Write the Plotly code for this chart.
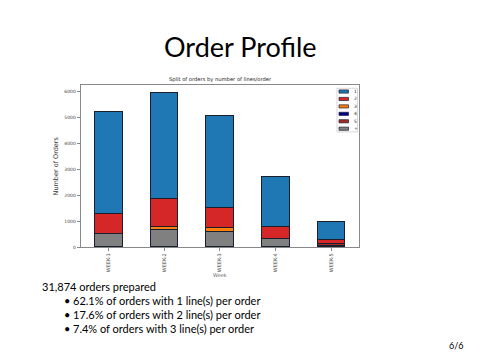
import plotly.graph_objects as go

weeks = ["WEEK-1", "WEEK-2", "WEEK-3", "WEEK-4", "WEEK-5"]
x_pos = [0, 1, 2, 3, 4]
series_names = ["1", "2", "3", "4", "5", "+"]
vals_1 = [3915, 4119, 3547, 1919, 712]
vals_2 = [775, 1080, 750, 458, 167]
vals_3 = [10, 102, 165, 10, 0]
vals_4 = [0, 0, 0, 0, 0]
vals_5 = [0, 0, 0, 0, 60]
vals_plus = [496, 648, 572, 305, 40]
colors = {"1": "#1f77b4", "2": "#d62728", "3": "#ff7f0e", "4": "#00008b", "5": "#a52a2a", "+": "#808080"}
values = {"1": vals_1, "2": vals_2, "3": vals_3, "4": vals_4, "5": vals_5, "+": vals_plus}
stack_order = ["+", "5", "4", "3", "2", "1"]

bullets = [
    "62.1% of orders with 1 line(s) per order",
    "17.6% of orders with 2 line(s) per order",
    "7.4% of orders with 3 line(s) per order",
]

W, H = 480, 360
fig = go.Figure()
for name in stack_order:
    fig.add_trace(go.Bar(
        x=x_pos, y=values[name], name=name, width=0.5,
        marker=dict(color=colors[name], line=dict(color="#1a1f2e", width=1)),
        showlegend=False, hoverinfo="skip",
    ))

px = lambda v: v / W
py = lambda v: 1 - v / H

fig.update_layout(
    width=W, height=H, margin=dict(l=0, r=0, t=0, b=0),
    paper_bgcolor="white", plot_bgcolor="white", barmode="stack", bargap=0,
    xaxis=dict(domain=[px(80.7), px(359)], range=[-0.5, 4.5], tickvals=x_pos, ticktext=weeks,
               tickangle=-90, tickfont=dict(family="DejaVu Sans", size=5, color="#444"),
               showline=True, linecolor="#888", linewidth=1, mirror=True, showgrid=False,
               ticks="outside", ticklen=3, tickcolor="#888", zeroline=False,
               title=dict(text="Week", font=dict(family="DejaVu Sans", size=5, color="#666"), standoff=2)),
    yaxis=dict(domain=[py(249.3), py(86)], range=[0, 6246], tickvals=[0, 1000, 2000, 3000, 4000, 5000, 6000],
               tickfont=dict(family="DejaVu Sans", size=4.5, color="#444"),
               showline=True, linecolor="#888", linewidth=1, mirror=True, showgrid=False,
               ticks="outside", ticklen=3, tickcolor="#888", zeroline=False,
               title=dict(text="Number of Orders", font=dict(family="DejaVu Sans", size=6.5, color="#333"), standoff=5)),
    font=dict(family="DejaVu Sans"),
)

annotations = [
    dict(text="Order Profile", x=0.5, y=py(47), xref="paper", yref="paper", showarrow=False,
         font=dict(family="Lato", size=27, color="black"), xanchor="center", yanchor="middle"),
    dict(text="Split of orders by number of lines/order", x=px(220), y=py(80), xref="paper", yref="paper",
         showarrow=False, font=dict(family="DejaVu Sans", size=5.2, color="#222"), xanchor="center", yanchor="middle"),
    dict(text="31,874 orders prepared", x=px(40), y=py(288.5), xref="paper", yref="paper", showarrow=False,
         font=dict(family="Lato", size=11, color="black"), xanchor="left", yanchor="middle"),
    dict(text="6/6", x=px(466), y=py(348), xref="paper", yref="paper", showarrow=False,
         font=dict(family="Lato", size=9, color="black"), xanchor="right", yanchor="middle"),
]
for i, b in enumerate(bullets):
    yy = 303 + i * 14
    annotations.append(dict(text="•", x=px(67), y=py(yy), xref="paper", yref="paper", showarrow=False,
                            font=dict(family="Lato", size=11, color="black"), xanchor="center", yanchor="middle"))
    annotations.append(dict(text=b, x=px(71), y=py(yy), xref="paper", yref="paper", showarrow=False,
                            font=dict(family="Lato", size=11, color="black"), xanchor="left", yanchor="middle"))

shapes = [dict(type="rect", xref="paper", yref="paper", x0=px(337), x1=px(357.5), y0=py(133), y1=py(89),
               line=dict(color="#cccccc", width=0.8), fillcolor="white", layer="above")]
for i, name in enumerate(series_names):
    yy = 92.3 + i * 7.5
    shapes.append(dict(type="rect", xref="paper", yref="paper", x0=px(339), x1=px(348.5),
                       y0=py(yy + 1.6), y1=py(yy - 1.6), fillcolor=colors[name],
                       line=dict(color="#1a1f2e", width=0.7), layer="above"))
    annotations.append(dict(text=name, x=px(352), y=py(yy), xref="paper", yref="paper", showarrow=False,
                            font=dict(family="DejaVu Sans", size=4.5, color="#222"), xanchor="left", yanchor="middle"))

fig.update_layout(annotations=annotations, shapes=shapes)
fig.write_html("out.html", config={"displayModeBar": False},
               post_script="document.body.style.margin='0';document.body.style.overflow='hidden';")
